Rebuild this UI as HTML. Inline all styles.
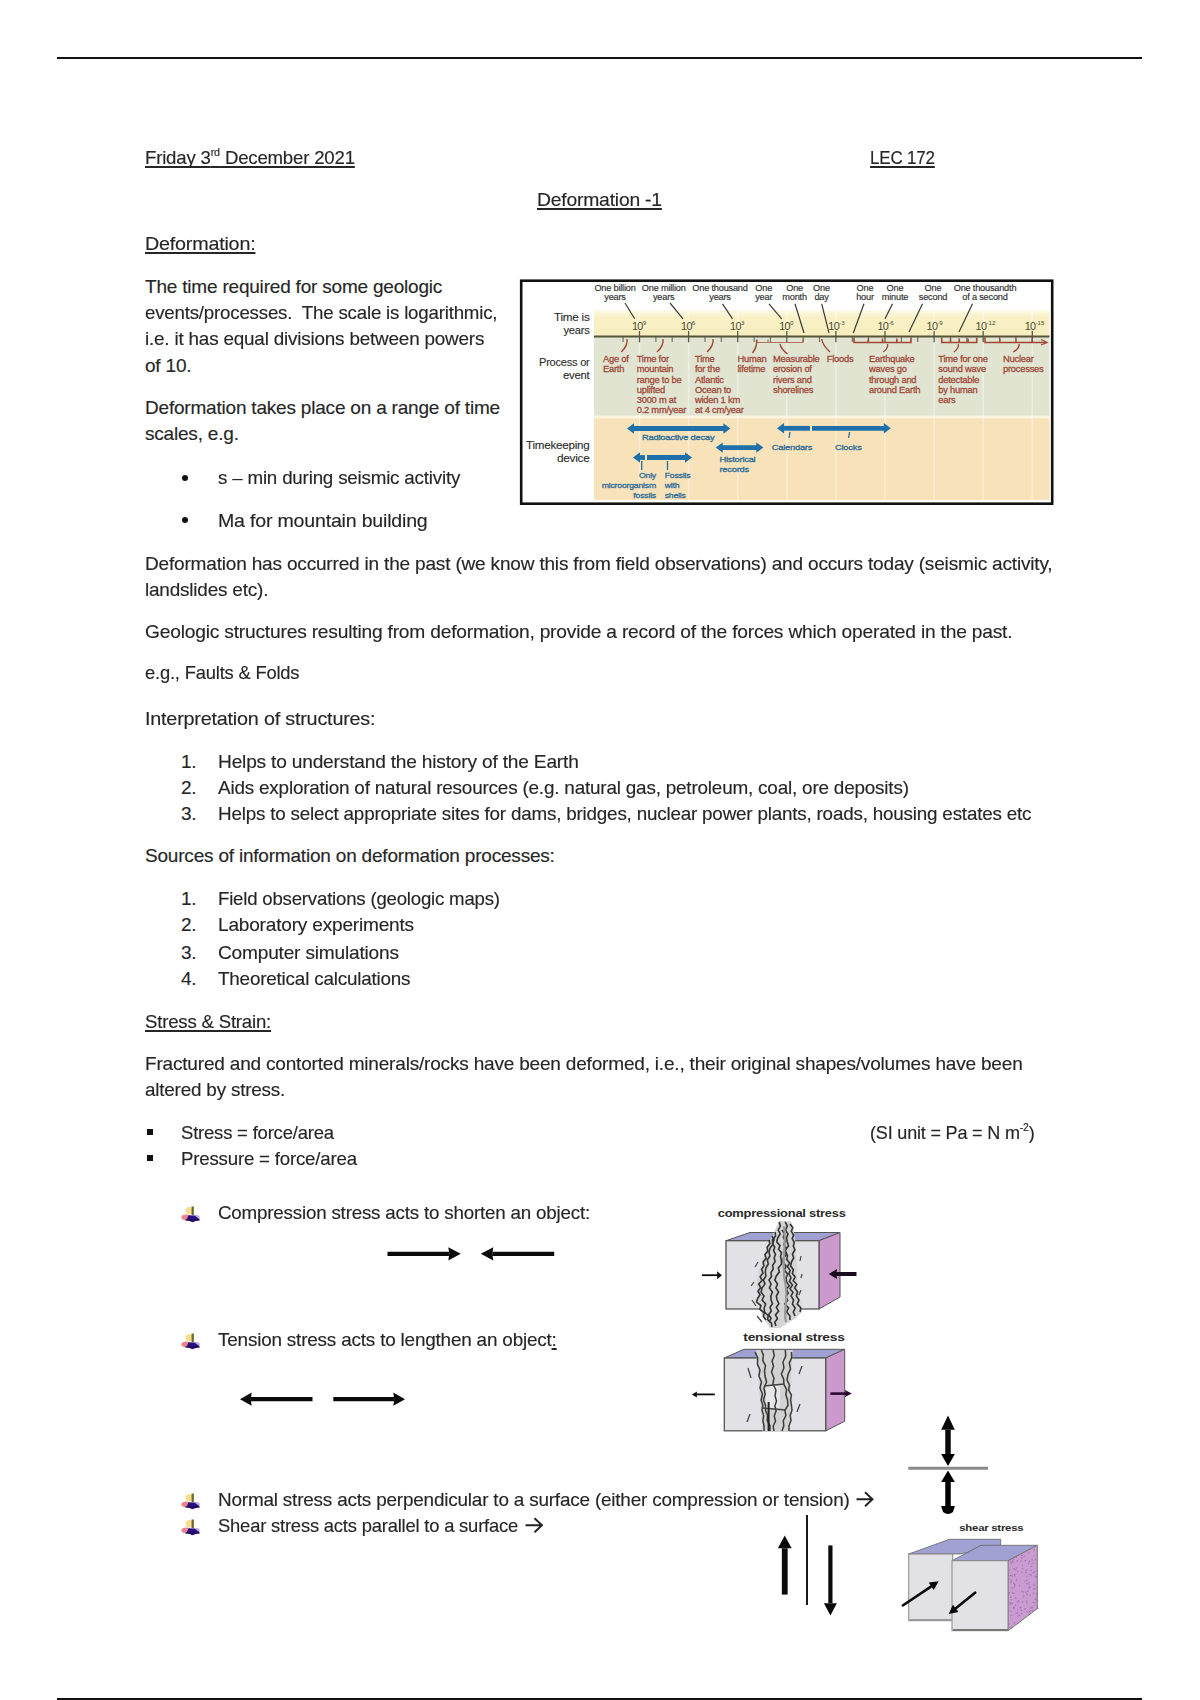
<!DOCTYPE html>
<html><head><meta charset="utf-8">
<style>
html,body{margin:0;padding:0;background:#fff;}
body{width:1200px;height:1700px;position:relative;overflow:hidden;font-family:"Liberation Sans",sans-serif;font-size:19px;color:#262626;letter-spacing:-0.2px;-webkit-text-stroke:0.15px #262626;}
.l{position:absolute;white-space:nowrap;line-height:normal;transform-origin:0 0;}
.u{text-decoration:underline;text-decoration-thickness:2px;text-underline-offset:2.3px;text-decoration-skip-ink:none;}
.hr{position:absolute;left:57px;width:1085px;height:2px;background:#111;}
.dot{position:absolute;width:6px;height:6px;border-radius:50%;background:#111;}
.sq{position:absolute;width:6px;height:6px;background:#111;}
sup{font-size:11px;vertical-align:0;position:relative;top:-8px;}
</style></head><body>
<div class="hr" style="top:57px"></div>
<div class="hr" style="top:1698px"></div>
<div id="t1" class="l u" style="left:145px;top:146.8px;transform:scaleX(0.9799)">Friday 3<sup>rd</sup> December 2021</div>
<div id="t2" class="l u" style="left:870px;top:146.6px;transform:scaleX(0.8931)">LEC 172</div>
<div id="t3" class="l u" style="left:537px;top:189.3px;transform:scaleX(1.0164)">Deformation -1</div>
<div id="t4" class="l u" style="left:145px;top:233.3px;transform:scaleX(1.0381)">Deformation:</div>
<div id="p1a" class="l" style="left:145px;top:275.6px">The time required for some geologic</div>
<div id="p1b" class="l" style="left:145px;top:301.7px;transform:scaleX(0.9832)">events/processes.&nbsp; The scale is logarithmic,</div>
<div id="p1c" class="l" style="left:145px;top:328.2px;transform:scaleX(0.9941)">i.e. it has equal divisions between powers</div>
<div id="p1d" class="l" style="left:145px;top:354.5px">of 10.</div>
<div id="p2a" class="l" style="left:145px;top:396.8px">Deformation takes place on a range of time</div>
<div id="p2b" class="l" style="left:145px;top:422.8px">scales, e.g.</div>
<div id="b1" class="l" style="left:218px;top:467.3px;transform:scaleX(0.9878)">s &#8211; min during seismic activity</div>
<div id="b2" class="l" style="left:218px;top:509.8px;transform:scaleX(1.0307)">Ma for mountain building</div>
<div id="p3a" class="l" style="left:145px;top:552.8px;transform:scaleX(1.0031)">Deformation has occurred in the past (we know this from field observations) and occurs today (seismic activity,</div>
<div id="p3b" class="l" style="left:145px;top:578.8px;transform:scaleX(0.9975)">landslides etc).</div>
<div id="p4" class="l" style="left:145px;top:621.3px;transform:scaleX(1.0103)">Geologic structures resulting from deformation, provide a record of the forces which operated in the past.</div>
<div id="p5" class="l" style="left:145px;top:661.6px;transform:scaleX(0.9667)">e.g., Faults &amp; Folds</div>
<div id="p6" class="l" style="left:145px;top:707.5px;transform:scaleX(1.0409)">Interpretation of structures:</div>
<div id="n1d" class="l" style="left:181px;top:751.0px">1.</div>
<div id="n1" class="l" style="left:218px;top:751.0px;transform:scaleX(1.0081)">Helps to understand the history of the Earth</div>
<div id="n2d" class="l" style="left:181px;top:777.0px">2.</div>
<div id="n2" class="l" style="left:218px;top:777.0px;transform:scaleX(0.9947)">Aids exploration of natural resources (e.g. natural gas, petroleum, coal, ore deposits)</div>
<div id="n3d" class="l" style="left:181px;top:803.0px">3.</div>
<div id="n3" class="l" style="left:218px;top:803.0px;transform:scaleX(0.9912)">Helps to select appropriate sites for dams, bridges, nuclear power plants, roads, housing estates etc</div>
<div id="p7" class="l" style="left:145px;top:845.1px">Sources of information on deformation processes:</div>
<div id="m1d" class="l" style="left:181px;top:887.6px">1.</div>
<div id="m1" class="l" style="left:218px;top:887.6px;transform:scaleX(0.9791)">Field observations (geologic maps)</div>
<div id="m2d" class="l" style="left:181px;top:914.3px">2.</div>
<div id="m2" class="l" style="left:218px;top:914.3px;transform:scaleX(1.0036)">Laboratory experiments</div>
<div id="m3d" class="l" style="left:181px;top:942.3px">3.</div>
<div id="m3" class="l" style="left:218px;top:942.3px;transform:scaleX(1.0056)">Computer simulations</div>
<div id="m4d" class="l" style="left:181px;top:968.2px">4.</div>
<div id="m4" class="l" style="left:218px;top:968.2px;transform:scaleX(0.9927)">Theoretical calculations</div>
<div id="t5" class="l u" style="left:145px;top:1010.5px;transform:scaleX(0.9787)">Stress &amp; Strain:</div>
<div id="p8a" class="l" style="left:145px;top:1052.5px;transform:scaleX(1.0019)">Fractured and contorted minerals/rocks have been deformed, i.e., their original shapes/volumes have been</div>
<div id="p8b" class="l" style="left:145px;top:1078.5px;transform:scaleX(0.9929)">altered by stress.</div>
<div id="s1" class="l" style="left:181px;top:1121.8px;transform:scaleX(0.9722)">Stress = force/area</div>
<div id="s1r" class="l" style="left:870px;top:1121.8px;transform:scaleX(0.9491)">(SI unit = Pa = N m<sup>-2</sup>)</div>
<div id="s2" class="l" style="left:181px;top:1147.9px;transform:scaleX(0.9821)">Pressure = force/area</div>
<div id="c1" class="l" style="left:218px;top:1202.0px;transform:scaleX(0.9880)">Compression stress acts to shorten an object:</div>
<div id="c2" class="l" style="left:218px;top:1328.8px;transform:scaleX(0.9956)">Tension stress acts to lengthen an object<span class="u">:</span></div>
<div id="c3" class="l" style="left:218px;top:1488.5px;transform:scaleX(0.9961)">Normal stress acts perpendicular to a surface (either compression or tension)</div>
<div id="c4" class="l" style="left:218px;top:1514.8px;transform:scaleX(0.9677)">Shear stress acts parallel to a surface</div>
<div class="dot" style="left:182px;top:475px"></div>
<div class="dot" style="left:182px;top:517px"></div>
<div class="sq" style="left:147px;top:1129px"></div>
<div class="sq" style="left:147px;top:1155.3px"></div>
<svg style="position:absolute;left:0;top:0" width="1200" height="1700" font-family="Liberation Sans, sans-serif">
<defs><linearGradient id="yg" x1="0" y1="0" x2="0" y2="1"><stop offset="0" stop-color="#fdf9e8"/><stop offset="0.3" stop-color="#f9f0c4"/><stop offset="1" stop-color="#f8eebf"/></linearGradient></defs>
<rect x="521.2" y="280.7" width="531" height="223" fill="#fff" stroke="#111" stroke-width="2.6"/>
<rect x="594" y="310" width="455.5" height="26.5" fill="url(#yg)"/>
<rect x="594" y="337" width="455.5" height="79" fill="#e1e4d1"/>
<rect x="594" y="415.5" width="455.5" height="4" fill="#faf5de"/>
<rect x="594" y="418.5" width="455.5" height="81.5" fill="#f8e2b9"/>
<line x1="639.5" y1="312" x2="639.5" y2="500" stroke="#fff" stroke-opacity="0.4" stroke-width="1.6"/>
<line x1="688.6" y1="312" x2="688.6" y2="500" stroke="#fff" stroke-opacity="0.4" stroke-width="1.6"/>
<line x1="737.7" y1="312" x2="737.7" y2="500" stroke="#fff" stroke-opacity="0.4" stroke-width="1.6"/>
<line x1="786.8" y1="312" x2="786.8" y2="500" stroke="#fff" stroke-opacity="0.4" stroke-width="1.6"/>
<line x1="835.9" y1="312" x2="835.9" y2="500" stroke="#fff" stroke-opacity="0.4" stroke-width="1.6"/>
<line x1="885.0" y1="312" x2="885.0" y2="500" stroke="#fff" stroke-opacity="0.4" stroke-width="1.6"/>
<line x1="934.1" y1="312" x2="934.1" y2="500" stroke="#fff" stroke-opacity="0.4" stroke-width="1.6"/>
<line x1="983.2" y1="312" x2="983.2" y2="500" stroke="#fff" stroke-opacity="0.4" stroke-width="1.6"/>
<line x1="1032.3" y1="312" x2="1032.3" y2="500" stroke="#fff" stroke-opacity="0.4" stroke-width="1.6"/>
<line x1="594" y1="336.4" x2="1049.5" y2="336.4" stroke="#55553a" stroke-width="2"/>
<line x1="639.5" y1="331" x2="639.5" y2="342.3" stroke="#5a5a40" stroke-width="1.3"/>
<line x1="688.6" y1="331" x2="688.6" y2="342.3" stroke="#5a5a40" stroke-width="1.3"/>
<line x1="737.7" y1="331" x2="737.7" y2="342.3" stroke="#5a5a40" stroke-width="1.3"/>
<line x1="786.8" y1="331" x2="786.8" y2="342.3" stroke="#5a5a40" stroke-width="1.3"/>
<line x1="835.9" y1="331" x2="835.9" y2="342.3" stroke="#5a5a40" stroke-width="1.3"/>
<line x1="885.0" y1="331" x2="885.0" y2="342.3" stroke="#5a5a40" stroke-width="1.3"/>
<line x1="934.1" y1="331" x2="934.1" y2="342.3" stroke="#5a5a40" stroke-width="1.3"/>
<line x1="983.2" y1="331" x2="983.2" y2="342.3" stroke="#5a5a40" stroke-width="1.3"/>
<line x1="1032.3" y1="331" x2="1032.3" y2="342.3" stroke="#5a5a40" stroke-width="1.3"/>
<line x1="623.1" y1="337" x2="623.1" y2="342" stroke="#6a6a50" stroke-width="1.1"/>
<line x1="655.9" y1="337" x2="655.9" y2="342" stroke="#6a6a50" stroke-width="1.1"/>
<line x1="672.2" y1="337" x2="672.2" y2="342" stroke="#6a6a50" stroke-width="1.1"/>
<line x1="705.0" y1="337" x2="705.0" y2="342" stroke="#6a6a50" stroke-width="1.1"/>
<line x1="721.3" y1="337" x2="721.3" y2="342" stroke="#6a6a50" stroke-width="1.1"/>
<line x1="754.1" y1="337" x2="754.1" y2="342" stroke="#6a6a50" stroke-width="1.1"/>
<line x1="770.4" y1="337" x2="770.4" y2="342" stroke="#6a6a50" stroke-width="1.1"/>
<line x1="803.2" y1="337" x2="803.2" y2="342" stroke="#6a6a50" stroke-width="1.1"/>
<line x1="819.5" y1="337" x2="819.5" y2="342" stroke="#6a6a50" stroke-width="1.1"/>
<line x1="852.3" y1="337" x2="852.3" y2="342" stroke="#6a6a50" stroke-width="1.1"/>
<line x1="868.6" y1="337" x2="868.6" y2="342" stroke="#6a6a50" stroke-width="1.1"/>
<line x1="901.4" y1="337" x2="901.4" y2="342" stroke="#6a6a50" stroke-width="1.1"/>
<line x1="917.7" y1="337" x2="917.7" y2="342" stroke="#6a6a50" stroke-width="1.1"/>
<line x1="950.5" y1="337" x2="950.5" y2="342" stroke="#6a6a50" stroke-width="1.1"/>
<line x1="966.8" y1="337" x2="966.8" y2="342" stroke="#6a6a50" stroke-width="1.1"/>
<line x1="999.6" y1="337" x2="999.6" y2="342" stroke="#6a6a50" stroke-width="1.1"/>
<line x1="1015.9" y1="337" x2="1015.9" y2="342" stroke="#6a6a50" stroke-width="1.1"/>
<text x="631.9" y="329.5" font-size="10.8" fill="#4a4a2e" letter-spacing="-0.6">10<tspan dy="-4.5" font-size="6.2" letter-spacing="0">9</tspan></text>
<text x="681.0" y="329.5" font-size="10.8" fill="#4a4a2e" letter-spacing="-0.6">10<tspan dy="-4.5" font-size="6.2" letter-spacing="0">6</tspan></text>
<text x="730.1" y="329.5" font-size="10.8" fill="#4a4a2e" letter-spacing="-0.6">10<tspan dy="-4.5" font-size="6.2" letter-spacing="0">3</tspan></text>
<text x="779.2" y="329.5" font-size="10.8" fill="#4a4a2e" letter-spacing="-0.6">10<tspan dy="-4.5" font-size="6.2" letter-spacing="0">0</tspan></text>
<text x="828.3" y="329.5" font-size="10.8" fill="#4a4a2e" letter-spacing="-0.6">10<tspan dy="-4.5" font-size="6.2" letter-spacing="0">-3</tspan></text>
<text x="877.4" y="329.5" font-size="10.8" fill="#4a4a2e" letter-spacing="-0.6">10<tspan dy="-4.5" font-size="6.2" letter-spacing="0">-6</tspan></text>
<text x="926.5" y="329.5" font-size="10.8" fill="#4a4a2e" letter-spacing="-0.6">10<tspan dy="-4.5" font-size="6.2" letter-spacing="0">-9</tspan></text>
<text x="975.6" y="329.5" font-size="10.8" fill="#4a4a2e" letter-spacing="-0.6">10<tspan dy="-4.5" font-size="6.2" letter-spacing="0">-12</tspan></text>
<text x="1024.7" y="329.5" font-size="10.8" fill="#4a4a2e" letter-spacing="-0.6">10<tspan dy="-4.5" font-size="6.2" letter-spacing="0">-15</tspan></text>
<text x="589.5" y="321" font-size="10" text-anchor="end" fill="#2a2a2a" stroke="#2a2a2a" stroke-width="0.1" textLength="35.5" lengthAdjust="spacingAndGlyphs">Time is</text>
<text x="589.5" y="334.3" font-size="10" text-anchor="end" fill="#2a2a2a" stroke="#2a2a2a" stroke-width="0.1" textLength="26" lengthAdjust="spacingAndGlyphs">years</text>
<text x="589.5" y="366" font-size="10" text-anchor="end" fill="#2a2a2a" stroke="#2a2a2a" stroke-width="0.1" textLength="50.5" lengthAdjust="spacingAndGlyphs">Process or</text>
<text x="589.5" y="379" font-size="10" text-anchor="end" fill="#2a2a2a" stroke="#2a2a2a" stroke-width="0.1" textLength="26.5" lengthAdjust="spacingAndGlyphs">event</text>
<text x="589.5" y="448.5" font-size="10" text-anchor="end" fill="#2a2a2a" stroke="#2a2a2a" stroke-width="0.1" textLength="63.5" lengthAdjust="spacingAndGlyphs">Timekeeping</text>
<text x="589.5" y="461.5" font-size="10" text-anchor="end" fill="#2a2a2a" stroke="#2a2a2a" stroke-width="0.1" textLength="32.5" lengthAdjust="spacingAndGlyphs">device</text>
<g transform="translate(615,291) scale(1.0,1)"><text x="0" y="0" font-size="9.2" fill="#2e2e2e" stroke="#2e2e2e" stroke-width="0.15" text-anchor="middle" >One billion</text></g>
<g transform="translate(615,300.3) scale(1.0,1)"><text x="0" y="0" font-size="9.2" fill="#2e2e2e" stroke="#2e2e2e" stroke-width="0.15" text-anchor="middle" >years</text></g>
<g transform="translate(663.7,291) scale(1.0,1)"><text x="0" y="0" font-size="9.2" fill="#2e2e2e" stroke="#2e2e2e" stroke-width="0.15" text-anchor="middle" >One million</text></g>
<g transform="translate(663.7,300.3) scale(1.0,1)"><text x="0" y="0" font-size="9.2" fill="#2e2e2e" stroke="#2e2e2e" stroke-width="0.15" text-anchor="middle" >years</text></g>
<g transform="translate(720,291) scale(1.0,1)"><text x="0" y="0" font-size="9.2" fill="#2e2e2e" stroke="#2e2e2e" stroke-width="0.15" text-anchor="middle" >One thousand</text></g>
<g transform="translate(720,300.3) scale(1.0,1)"><text x="0" y="0" font-size="9.2" fill="#2e2e2e" stroke="#2e2e2e" stroke-width="0.15" text-anchor="middle" >years</text></g>
<g transform="translate(763.7,291) scale(1.0,1)"><text x="0" y="0" font-size="9.2" fill="#2e2e2e" stroke="#2e2e2e" stroke-width="0.15" text-anchor="middle" >One</text></g>
<g transform="translate(763.7,300.3) scale(1.0,1)"><text x="0" y="0" font-size="9.2" fill="#2e2e2e" stroke="#2e2e2e" stroke-width="0.15" text-anchor="middle" >year</text></g>
<g transform="translate(794.6,291) scale(1.0,1)"><text x="0" y="0" font-size="9.2" fill="#2e2e2e" stroke="#2e2e2e" stroke-width="0.15" text-anchor="middle" >One</text></g>
<g transform="translate(794.6,300.3) scale(1.0,1)"><text x="0" y="0" font-size="9.2" fill="#2e2e2e" stroke="#2e2e2e" stroke-width="0.15" text-anchor="middle" >month</text></g>
<g transform="translate(821.5,291) scale(1.0,1)"><text x="0" y="0" font-size="9.2" fill="#2e2e2e" stroke="#2e2e2e" stroke-width="0.15" text-anchor="middle" >One</text></g>
<g transform="translate(821.5,300.3) scale(1.0,1)"><text x="0" y="0" font-size="9.2" fill="#2e2e2e" stroke="#2e2e2e" stroke-width="0.15" text-anchor="middle" >day</text></g>
<g transform="translate(865,291) scale(1.0,1)"><text x="0" y="0" font-size="9.2" fill="#2e2e2e" stroke="#2e2e2e" stroke-width="0.15" text-anchor="middle" >One</text></g>
<g transform="translate(865,300.3) scale(1.0,1)"><text x="0" y="0" font-size="9.2" fill="#2e2e2e" stroke="#2e2e2e" stroke-width="0.15" text-anchor="middle" >hour</text></g>
<g transform="translate(895,291) scale(1.0,1)"><text x="0" y="0" font-size="9.2" fill="#2e2e2e" stroke="#2e2e2e" stroke-width="0.15" text-anchor="middle" >One</text></g>
<g transform="translate(895,300.3) scale(1.0,1)"><text x="0" y="0" font-size="9.2" fill="#2e2e2e" stroke="#2e2e2e" stroke-width="0.15" text-anchor="middle" >minute</text></g>
<g transform="translate(933,291) scale(1.0,1)"><text x="0" y="0" font-size="9.2" fill="#2e2e2e" stroke="#2e2e2e" stroke-width="0.15" text-anchor="middle" >One</text></g>
<g transform="translate(933,300.3) scale(1.0,1)"><text x="0" y="0" font-size="9.2" fill="#2e2e2e" stroke="#2e2e2e" stroke-width="0.15" text-anchor="middle" >second</text></g>
<g transform="translate(985,291) scale(1.0,1)"><text x="0" y="0" font-size="9.2" fill="#2e2e2e" stroke="#2e2e2e" stroke-width="0.15" text-anchor="middle" >One thousandth</text></g>
<g transform="translate(985,300.3) scale(1.0,1)"><text x="0" y="0" font-size="9.2" fill="#2e2e2e" stroke="#2e2e2e" stroke-width="0.15" text-anchor="middle" >of a second</text></g>
<line x1="625" y1="303" x2="634.7" y2="318.8" stroke="#3a3a3a" stroke-width="1.2"/>
<line x1="670" y1="303" x2="683" y2="318.8" stroke="#3a3a3a" stroke-width="1.2"/>
<line x1="722.5" y1="303.8" x2="732.5" y2="318.8" stroke="#3a3a3a" stroke-width="1.2"/>
<line x1="769" y1="303.8" x2="781.7" y2="318.8" stroke="#3a3a3a" stroke-width="1.2"/>
<line x1="795" y1="303.8" x2="804" y2="333" stroke="#3a3a3a" stroke-width="1.2"/>
<line x1="821.7" y1="303.8" x2="829" y2="333" stroke="#3a3a3a" stroke-width="1.2"/>
<line x1="864" y1="303.8" x2="853.3" y2="333" stroke="#3a3a3a" stroke-width="1.2"/>
<line x1="892.5" y1="303.8" x2="885" y2="318.8" stroke="#3a3a3a" stroke-width="1.2"/>
<line x1="922.5" y1="303.8" x2="909" y2="332" stroke="#3a3a3a" stroke-width="1.2"/>
<line x1="972.5" y1="303.8" x2="959" y2="332" stroke="#3a3a3a" stroke-width="1.2"/>
<g transform="translate(603,362.3) scale(1.14,1)"><text x="0" y="0" font-size="8.2" fill="#a04838" stroke="#a04838" stroke-width="0.25" text-anchor="start" >Age of</text></g>
<g transform="translate(603,372.4) scale(1.14,1)"><text x="0" y="0" font-size="8.2" fill="#a04838" stroke="#a04838" stroke-width="0.25" text-anchor="start" >Earth</text></g>
<g transform="translate(636.7,362.3) scale(1.14,1)"><text x="0" y="0" font-size="8.2" fill="#a04838" stroke="#a04838" stroke-width="0.25" text-anchor="start" >Time for</text></g>
<g transform="translate(636.7,372.4) scale(1.14,1)"><text x="0" y="0" font-size="8.2" fill="#a04838" stroke="#a04838" stroke-width="0.25" text-anchor="start" >mountain</text></g>
<g transform="translate(636.7,382.5) scale(1.14,1)"><text x="0" y="0" font-size="8.2" fill="#a04838" stroke="#a04838" stroke-width="0.25" text-anchor="start" >range to be</text></g>
<g transform="translate(636.7,392.6) scale(1.14,1)"><text x="0" y="0" font-size="8.2" fill="#a04838" stroke="#a04838" stroke-width="0.25" text-anchor="start" >uplifted</text></g>
<g transform="translate(636.7,402.7) scale(1.14,1)"><text x="0" y="0" font-size="8.2" fill="#a04838" stroke="#a04838" stroke-width="0.25" text-anchor="start" >3000 m at</text></g>
<g transform="translate(636.7,412.8) scale(1.14,1)"><text x="0" y="0" font-size="8.2" fill="#a04838" stroke="#a04838" stroke-width="0.25" text-anchor="start" >0.2 mm/year</text></g>
<g transform="translate(695,362.3) scale(1.14,1)"><text x="0" y="0" font-size="8.2" fill="#a04838" stroke="#a04838" stroke-width="0.25" text-anchor="start" >Time</text></g>
<g transform="translate(695,372.4) scale(1.14,1)"><text x="0" y="0" font-size="8.2" fill="#a04838" stroke="#a04838" stroke-width="0.25" text-anchor="start" >for the</text></g>
<g transform="translate(695,382.5) scale(1.14,1)"><text x="0" y="0" font-size="8.2" fill="#a04838" stroke="#a04838" stroke-width="0.25" text-anchor="start" >Atlantic</text></g>
<g transform="translate(695,392.6) scale(1.14,1)"><text x="0" y="0" font-size="8.2" fill="#a04838" stroke="#a04838" stroke-width="0.25" text-anchor="start" >Ocean to</text></g>
<g transform="translate(695,402.7) scale(1.14,1)"><text x="0" y="0" font-size="8.2" fill="#a04838" stroke="#a04838" stroke-width="0.25" text-anchor="start" >widen 1 km</text></g>
<g transform="translate(695,412.8) scale(1.14,1)"><text x="0" y="0" font-size="8.2" fill="#a04838" stroke="#a04838" stroke-width="0.25" text-anchor="start" >at 4 cm/year</text></g>
<g transform="translate(737.5,362.3) scale(1.14,1)"><text x="0" y="0" font-size="8.2" fill="#a04838" stroke="#a04838" stroke-width="0.25" text-anchor="start" >Human</text></g>
<g transform="translate(737.5,372.4) scale(1.14,1)"><text x="0" y="0" font-size="8.2" fill="#a04838" stroke="#a04838" stroke-width="0.25" text-anchor="start" >lifetime</text></g>
<g transform="translate(773,362.3) scale(1.14,1)"><text x="0" y="0" font-size="8.2" fill="#a04838" stroke="#a04838" stroke-width="0.25" text-anchor="start" >Measurable</text></g>
<g transform="translate(773,372.4) scale(1.14,1)"><text x="0" y="0" font-size="8.2" fill="#a04838" stroke="#a04838" stroke-width="0.25" text-anchor="start" >erosion of</text></g>
<g transform="translate(773,382.5) scale(1.14,1)"><text x="0" y="0" font-size="8.2" fill="#a04838" stroke="#a04838" stroke-width="0.25" text-anchor="start" >rivers and</text></g>
<g transform="translate(773,392.6) scale(1.14,1)"><text x="0" y="0" font-size="8.2" fill="#a04838" stroke="#a04838" stroke-width="0.25" text-anchor="start" >shorelines</text></g>
<g transform="translate(826.7,362.3) scale(1.14,1)"><text x="0" y="0" font-size="8.2" fill="#a04838" stroke="#a04838" stroke-width="0.25" text-anchor="start" >Floods</text></g>
<g transform="translate(869,362.3) scale(1.14,1)"><text x="0" y="0" font-size="8.2" fill="#a04838" stroke="#a04838" stroke-width="0.25" text-anchor="start" >Earthquake</text></g>
<g transform="translate(869,372.4) scale(1.14,1)"><text x="0" y="0" font-size="8.2" fill="#a04838" stroke="#a04838" stroke-width="0.25" text-anchor="start" >waves go</text></g>
<g transform="translate(869,382.5) scale(1.14,1)"><text x="0" y="0" font-size="8.2" fill="#a04838" stroke="#a04838" stroke-width="0.25" text-anchor="start" >through and</text></g>
<g transform="translate(869,392.6) scale(1.14,1)"><text x="0" y="0" font-size="8.2" fill="#a04838" stroke="#a04838" stroke-width="0.25" text-anchor="start" >around Earth</text></g>
<g transform="translate(938.3,362.3) scale(1.14,1)"><text x="0" y="0" font-size="8.2" fill="#a04838" stroke="#a04838" stroke-width="0.25" text-anchor="start" >Time for one</text></g>
<g transform="translate(938.3,372.4) scale(1.14,1)"><text x="0" y="0" font-size="8.2" fill="#a04838" stroke="#a04838" stroke-width="0.25" text-anchor="start" >sound wave</text></g>
<g transform="translate(938.3,382.5) scale(1.14,1)"><text x="0" y="0" font-size="8.2" fill="#a04838" stroke="#a04838" stroke-width="0.25" text-anchor="start" >detectable</text></g>
<g transform="translate(938.3,392.6) scale(1.14,1)"><text x="0" y="0" font-size="8.2" fill="#a04838" stroke="#a04838" stroke-width="0.25" text-anchor="start" >by human</text></g>
<g transform="translate(938.3,402.7) scale(1.14,1)"><text x="0" y="0" font-size="8.2" fill="#a04838" stroke="#a04838" stroke-width="0.25" text-anchor="start" >ears</text></g>
<g transform="translate(1003,362.3) scale(1.14,1)"><text x="0" y="0" font-size="8.2" fill="#a04838" stroke="#a04838" stroke-width="0.25" text-anchor="start" >Nuclear</text></g>
<g transform="translate(1003,372.4) scale(1.14,1)"><text x="0" y="0" font-size="8.2" fill="#a04838" stroke="#a04838" stroke-width="0.25" text-anchor="start" >processes</text></g>
<path d="M621.3 352 Q628 345.5 627 339" fill="none" stroke="#a04838" stroke-width="1.4"/>
<path d="M657 352 Q664 345.5 663 339" fill="none" stroke="#a04838" stroke-width="1.4"/>
<path d="M707 352 Q714 345.5 713 339" fill="none" stroke="#a04838" stroke-width="1.4"/>
<path d="M752.5 353 Q757.5 346.5 756.5 340" fill="none" stroke="#a04838" stroke-width="1.4"/>
<path d="M787.5 354 Q781 349.0 780 344" fill="none" stroke="#a04838" stroke-width="1.4"/>
<path d="M830 352 Q822.7 345.5 821.7 339" fill="none" stroke="#a04838" stroke-width="1.4"/>
<path d="M883.3 352 Q888.5 348.0 887.5 344" fill="none" stroke="#a04838" stroke-width="1.4"/>
<path d="M954 352 Q959.3 348.0 958.3 344" fill="none" stroke="#a04838" stroke-width="1.4"/>
<path d="M1013.3 352 Q1020 348.0 1019 344" fill="none" stroke="#a04838" stroke-width="1.4"/>
<path d="M854 337.5 L854 342.5 L911 342.5 L911 337.5 M868.2 342.5 L868.2 338.5 M882.5 342.5 L882.5 338.5 M896.8 342.5 L896.8 338.5" fill="none" stroke="#a04838" stroke-width="1.6"/>
<path d="M941.7 337.5 L941.7 342.5 L976.7 342.5 L976.7 337.5 M950.5 342.5 L950.5 338.5 M959.2 342.5 L959.2 338.5 M968.0 342.5 L968.0 338.5" fill="none" stroke="#a04838" stroke-width="1.6"/>
<path d="M985 337.5 L985 342.5 L1046 342.5" fill="none" stroke="#a04838" stroke-width="1.6"/><path d="M1041 339.5 L1047 342.5 L1041 345" fill="none" stroke="#a04838" stroke-width="1.3"/>
<path d="M1000 342.5 L1000 338.5 M1016 342.5 L1016 338.5 M1032 342.5 L1032 338.5" stroke="#a04838" stroke-width="1.2"/>
<path d="M757 339 L757 342.5 L803 342.5 L803 339 M768 342.5 L768 339.5" fill="none" stroke="#a04838" stroke-width="1.1" stroke-opacity="0.75"/>
<line x1="633" y1="428.5" x2="724.4" y2="428.5" stroke="#1f70aa" stroke-width="4.8"/><path d="M627 428.5 L634 423.3 L634 433.7Z" fill="#1f70aa"/><path d="M730.4 428.5 L723.4 423.3 L723.4 433.7Z" fill="#1f70aa"/>
<line x1="639" y1="457.5" x2="645" y2="457.5" stroke="#1f70aa" stroke-width="4.8"/><path d="M633 457.5 L640 452.3 L640 462.7Z" fill="#1f70aa"/>
<line x1="647" y1="457.5" x2="686" y2="457.5" stroke="#1f70aa" stroke-width="4.8"/><path d="M692 457.5 L685 452.3 L685 462.7Z" fill="#1f70aa"/>
<line x1="721.7" y1="447.6" x2="757.4" y2="447.6" stroke="#1f70aa" stroke-width="4.8"/><path d="M715.7 447.6 L722.7 442.40000000000003 L722.7 452.8Z" fill="#1f70aa"/><path d="M763.4 447.6 L756.4 442.40000000000003 L756.4 452.8Z" fill="#1f70aa"/>
<line x1="783" y1="428.3" x2="810" y2="428.3" stroke="#1f70aa" stroke-width="4.8"/><path d="M777 428.3 L784 423.1 L784 433.5Z" fill="#1f70aa"/>
<line x1="812" y1="428.3" x2="884.8" y2="428.3" stroke="#1f70aa" stroke-width="4.8"/><path d="M890.8 428.3 L883.8 423.1 L883.8 433.5Z" fill="#1f70aa"/>
<g transform="translate(642,440) scale(1.2,1)"><text x="0" y="0" font-size="7.8" fill="#2e6d98" stroke="#2e6d98" stroke-width="0.3" text-anchor="start" >Radioactive decay</text></g>
<g transform="translate(719.4,462.3) scale(1.2,1)"><text x="0" y="0" font-size="7.8" fill="#2e6d98" stroke="#2e6d98" stroke-width="0.3" text-anchor="start" >Historical</text></g>
<g transform="translate(719.4,472.3) scale(1.2,1)"><text x="0" y="0" font-size="7.8" fill="#2e6d98" stroke="#2e6d98" stroke-width="0.3" text-anchor="start" >records</text></g>
<g transform="translate(771.7,450.3) scale(1.2,1)"><text x="0" y="0" font-size="7.8" fill="#2e6d98" stroke="#2e6d98" stroke-width="0.3" text-anchor="start" >Calendars</text></g>
<g transform="translate(835,450.3) scale(1.2,1)"><text x="0" y="0" font-size="7.8" fill="#2e6d98" stroke="#2e6d98" stroke-width="0.3" text-anchor="start" >Clocks</text></g>
<g transform="translate(656,478) scale(1.12,1)"><text x="0" y="0" font-size="7.8" fill="#2e6d98" stroke="#2e6d98" stroke-width="0.3" text-anchor="end" >Only</text></g>
<g transform="translate(656,488) scale(1.12,1)"><text x="0" y="0" font-size="7.8" fill="#2e6d98" stroke="#2e6d98" stroke-width="0.3" text-anchor="end" >microorganism</text></g>
<g transform="translate(656,498) scale(1.12,1)"><text x="0" y="0" font-size="7.8" fill="#2e6d98" stroke="#2e6d98" stroke-width="0.3" text-anchor="end" >fossils</text></g>
<g transform="translate(664.7,478) scale(1.12,1)"><text x="0" y="0" font-size="7.8" fill="#2e6d98" stroke="#2e6d98" stroke-width="0.3" text-anchor="start" >Fossils</text></g>
<g transform="translate(664.7,488) scale(1.12,1)"><text x="0" y="0" font-size="7.8" fill="#2e6d98" stroke="#2e6d98" stroke-width="0.3" text-anchor="start" >with</text></g>
<g transform="translate(664.7,498) scale(1.12,1)"><text x="0" y="0" font-size="7.8" fill="#2e6d98" stroke="#2e6d98" stroke-width="0.3" text-anchor="start" >shells</text></g>
<path d="M641.7 461 L641.7 470 M667.5 461 L667.5 470 M790 432 L789 438 M849.6 432 L848.6 438" stroke="#2e6d98" stroke-width="1.3"/>
</svg>
<svg style="position:absolute;left:0;top:0" width="1200" height="1700" font-family="Liberation Sans, sans-serif">
<defs><filter id="bl" x="-0.3" y="-0.3" width="1.6" height="1.6"><feGaussianBlur stdDeviation="0.7"/></filter><filter id="nz" x="0" y="0" width="1" height="1"><feTurbulence type="fractalNoise" baseFrequency="0.6" numOctaves="2" seed="3"/><feColorMatrix values="0 0 0 0 0.55  0 0 0 0 0.35  0 0 0 0 0.6  0 0 0 1.2 -0.35"/><feComposite in2="SourceGraphic" operator="in"/></filter></defs>
<line x1="387.5" y1="1253.8" x2="449.3" y2="1253.8" stroke="#0a0a0a" stroke-width="4.2"/><path d="M460.8 1253.8 L448.3 1247.1499999999999 L449.3 1253.8 L448.3 1260.45Z" fill="#0a0a0a"/>
<line x1="554.2" y1="1253.8" x2="492.3" y2="1253.8" stroke="#0a0a0a" stroke-width="4.2"/><path d="M480.8 1253.8 L493.3 1247.1499999999999 L492.3 1253.8 L493.3 1260.45Z" fill="#0a0a0a"/>
<line x1="312.5" y1="1399.2" x2="250.7" y2="1399.2" stroke="#0a0a0a" stroke-width="4.2"/><path d="M240 1399.2 L251.7 1392.55 L250.76399999999998 1399.2 L251.7 1405.8500000000001Z" fill="#0a0a0a"/>
<line x1="333.3" y1="1399.2" x2="394.3" y2="1399.2" stroke="#0a0a0a" stroke-width="4.2"/><path d="M405 1399.2 L393.3 1392.55 L394.236 1399.2 L393.3 1405.8500000000001Z" fill="#0a0a0a"/>
<g transform="translate(181,1205)" filter="url(#bl)"><ellipse cx="8.2" cy="5.8" rx="3.6" ry="3.8" fill="#f5cf62" opacity="0.7"/><ellipse cx="5" cy="12.3" rx="4.6" ry="2.9" fill="#ea6670" opacity="0.8"/><ellipse cx="15.2" cy="12.5" rx="3.6" ry="2.4" fill="#9a8ee0" opacity="0.7"/><path d="M5.5 14.8 L7.5 10.2 L13.5 10.6 L18.8 14.6 L11.5 17.2 Z" fill="#2a0e82"/><line x1="4.5" y1="15" x2="18.5" y2="15" stroke="#1a0850" stroke-width="1.3"/><line x1="11.7" y1="1.5" x2="11.7" y2="10" stroke="#6b6a2e" stroke-width="2.3"/></g>
<g transform="translate(181,1332)" filter="url(#bl)"><ellipse cx="8.2" cy="5.8" rx="3.6" ry="3.8" fill="#f5cf62" opacity="0.7"/><ellipse cx="5" cy="12.3" rx="4.6" ry="2.9" fill="#ea6670" opacity="0.8"/><ellipse cx="15.2" cy="12.5" rx="3.6" ry="2.4" fill="#9a8ee0" opacity="0.7"/><path d="M5.5 14.8 L7.5 10.2 L13.5 10.6 L18.8 14.6 L11.5 17.2 Z" fill="#2a0e82"/><line x1="4.5" y1="15" x2="18.5" y2="15" stroke="#1a0850" stroke-width="1.3"/><line x1="11.7" y1="1.5" x2="11.7" y2="10" stroke="#6b6a2e" stroke-width="2.3"/></g>
<g transform="translate(181,1492)" filter="url(#bl)"><ellipse cx="8.2" cy="5.8" rx="3.6" ry="3.8" fill="#f5cf62" opacity="0.7"/><ellipse cx="5" cy="12.3" rx="4.6" ry="2.9" fill="#ea6670" opacity="0.8"/><ellipse cx="15.2" cy="12.5" rx="3.6" ry="2.4" fill="#9a8ee0" opacity="0.7"/><path d="M5.5 14.8 L7.5 10.2 L13.5 10.6 L18.8 14.6 L11.5 17.2 Z" fill="#2a0e82"/><line x1="4.5" y1="15" x2="18.5" y2="15" stroke="#1a0850" stroke-width="1.3"/><line x1="11.7" y1="1.5" x2="11.7" y2="10" stroke="#6b6a2e" stroke-width="2.3"/></g>
<g transform="translate(181,1518)" filter="url(#bl)"><ellipse cx="8.2" cy="5.8" rx="3.6" ry="3.8" fill="#f5cf62" opacity="0.7"/><ellipse cx="5" cy="12.3" rx="4.6" ry="2.9" fill="#ea6670" opacity="0.8"/><ellipse cx="15.2" cy="12.5" rx="3.6" ry="2.4" fill="#9a8ee0" opacity="0.7"/><path d="M5.5 14.8 L7.5 10.2 L13.5 10.6 L18.8 14.6 L11.5 17.2 Z" fill="#2a0e82"/><line x1="4.5" y1="15" x2="18.5" y2="15" stroke="#1a0850" stroke-width="1.3"/><line x1="11.7" y1="1.5" x2="11.7" y2="10" stroke="#6b6a2e" stroke-width="2.3"/></g>
<polygon points="726,1240.7 750,1232.5 840,1232.5 819,1240.7" fill="#a0a0d2" stroke="#555" stroke-width="1"/>
<polygon points="819,1240.7 840,1232.5 840,1297 819,1309" fill="#cc99cc" stroke="#555" stroke-width="1"/>
<rect x="726" y="1240.7" width="93" height="68.3" fill="#e2e2e6" stroke="#555" stroke-width="1.3"/>
<path d="M775 1230 L779 1221 L791 1221 L794 1232 C797 1250 796 1270 798 1290 L802 1312 L796 1318 L780 1328 L770 1328 L762 1316 C756 1300 757 1290 757 1280 C760 1262 768 1245 775 1230 Z" fill="#d4d4d4"/>
<path d="M775.1 1232.0 L775.6 1236.0 L772.4 1240.0 L773.1 1244.0 L770.1 1248.0 L769.0 1252.0 L769.9 1256.0 L767.3 1260.0 L768.3 1264.0 L765.8 1268.0 L765.3 1272.0 L765.9 1276.0 L763.4 1280.0 L765.0 1284.0 L762.0 1288.0 L761.1 1292.0 L764.0 1296.0 L762.1 1300.0 L765.6 1304.0 L764.2 1308.0 L764.5 1312.0 L768.2 1315.8 L767.6 1319.5 L771.4 1323.2 L772.0 1327.0" fill="none" stroke="#333" stroke-width="1.6"/>
<path d="M779.2 1222.0 L780.4 1226.0 L778.3 1230.0 L780.2 1234.0 L777.6 1238.0 L776.8 1242.0 L780.0 1245.6 L778.6 1249.2 L781.5 1252.8 L780.5 1256.4 L781.3 1260.0 L781.6 1264.0 L778.3 1268.0 L779.4 1272.0 L776.3 1276.0 L774.8 1280.0 L777.5 1284.0 L775.9 1288.0 L778.6 1292.0 L776.3 1296.0 L777.1 1300.0 L778.9 1303.7 L776.3 1307.4 L778.6 1311.1 L775.5 1314.9 L777.5 1318.6 L774.7 1322.3 L776.0 1326.0" fill="none" stroke="#333" stroke-width="1.6"/>
<path d="M785.2 1222.0 L787.4 1226.0 L785.5 1230.0 L788.0 1234.0 L786.5 1238.0 L787.3 1242.0 L788.5 1246.0 L785.1 1250.0 L786.8 1254.0 L783.4 1258.0 L783.1 1262.0 L786.1 1266.0 L784.4 1270.0 L787.6 1274.0 L786.1 1278.0 L786.6 1282.0 L789.2 1285.7 L786.3 1289.3 L788.3 1293.0 L786.0 1296.7 L787.6 1300.3 L784.8 1304.0 L788.6 1308.0 L786.6 1312.0 L789.9 1316.0 L790.0 1320.0" fill="none" stroke="#333" stroke-width="1.6"/>
<path d="M790.0 1224.0 L792.8 1227.7 L791.3 1231.3 L793.6 1235.0 L792.2 1238.7 L794.3 1242.3 L793.3 1246.0 L794.9 1250.0 L792.4 1254.0 L793.7 1258.0 L791.4 1262.0 L790.6 1266.0 L793.4 1269.7 L792.3 1273.3 L795.1 1277.0 L793.2 1280.7 L796.7 1284.3 L794.6 1288.0 L797.6 1292.0 L796.3 1296.0 L799.0 1300.0 L797.2 1304.0 L800.9 1308.0 L800.0 1312.0" fill="none" stroke="#333" stroke-width="1.6"/>
<path d="M769.2 1240.0 L769.8 1243.7 L767.1 1247.3 L767.9 1251.0 L764.9 1254.7 L766.2 1258.3 L763.1 1262.0 L764.0 1265.7 L761.6 1269.3 L763.0 1273.0 L760.2 1276.7 L762.2 1280.3 L758.7 1284.0 L760.7 1287.6 L758.0 1291.2 L760.1 1294.8 L757.7 1298.4 L756.5 1302.0 L761.0 1305.6 L759.8 1309.2 L764.2 1312.8 L763.4 1316.4 L766.0 1320.0" fill="none" stroke="#333" stroke-width="1.6"/>
<path d="M772.0 1236.0 L774.1 1239.7 L772.4 1243.3 L774.7 1247.0 L773.6 1250.7 L775.5 1254.3 L774.2 1258.0 L775.1 1261.7 L772.6 1265.3 L773.2 1269.0 L770.9 1272.7 L771.6 1276.3 L769.0 1280.0 L771.1 1284.0 L769.4 1288.0 L772.4 1292.0 L770.8 1296.0 L771.1 1300.0 L772.5 1303.7 L770.0 1307.3 L771.3 1311.0 L768.6 1314.7 L771.1 1318.3 L769.0 1322.0" fill="none" stroke="#333" stroke-width="1.6"/>
<path d="M781.9 1230.0 L784.6 1233.7 L783.3 1237.3 L785.2 1241.0 L784.0 1244.7 L786.4 1248.3 L784.6 1252.0 L787.5 1255.7 L786.7 1259.3 L789.5 1263.0 L787.5 1266.7 L790.1 1270.3 L788.9 1274.0 L791.0 1277.7 L789.5 1281.3 L792.5 1285.0 L789.9 1288.7 L793.0 1292.3 L791.1 1296.0 L793.6 1300.0 L792.4 1304.0 L795.2 1308.0 L793.3 1312.0 L795.0 1316.0" fill="none" stroke="#333" stroke-width="1.6"/>
<path d="M758 1262 l-3 5 M754 1282 l-3 4 M752 1300 l4 6 M801 1256 l-1 5 M802 1274 l-1 4 M801 1290 l-2 5 M757 1316 l5 6" fill="none" stroke="#444" stroke-width="1.2"/>
<path d="M784 1226 C787 1244 781 1262 785 1282 C789 1298 783 1310 786 1322" fill="none" stroke="#999" stroke-width="2.2"/>
<line x1="702" y1="1275.2" x2="718" y2="1275.2" stroke="#0a0a0a" stroke-width="1.8"/><path d="M722 1275.2 L717 1271.2 L717.4 1275.2 L717 1279.2Z" fill="#0a0a0a"/>
<line x1="856.5" y1="1274" x2="836" y2="1274" stroke="#1a0a20" stroke-width="4"/><path d="M828.7 1274 L837 1269.0 L836.336 1274 L837 1279.0Z" fill="#1a0a20"/>
<text x="717.7" y="1217.2" font-size="11.2" font-weight="bold" fill="#2a2a2a" letter-spacing="-0.2" textLength="128" lengthAdjust="spacingAndGlyphs">compressional stress</text>
<polygon points="724.3,1358 744,1349.3 844.7,1349.3 825.7,1358" fill="#a0a0d2" stroke="#555" stroke-width="1"/>
<polygon points="825.7,1358 844.7,1349.3 844.7,1421.3 825.7,1430.8" fill="#cc99cc" stroke="#555" stroke-width="1"/>
<rect x="724.3" y="1358" width="101.4" height="72.8" fill="#e2e2e6" stroke="#555" stroke-width="1.3"/>
<path d="M756 1350 L793 1350 C790 1375 792 1400 789.5 1432 L762.5 1432 C760 1400 758 1375 756 1350 Z" fill="#d2d2d2"/>
<rect x="766" y="1386" width="14" height="22" fill="#e6e6e8"/>
<path d="M755.1 1352.0 L757.7 1358.0 L757.4 1364.0 L760.0 1370.0 L758.9 1376.0 L761.5 1382.0 L760.0 1388.0 L762.5 1394.0 L761.1 1400.0 L762.9 1405.2 L761.9 1410.3 L763.7 1415.5 L762.9 1420.7 L764.1 1425.8 L764.0 1431.0" fill="none" stroke="#3a3a3a" stroke-width="1.5"/>
<path d="M761.4 1350.0 L763.4 1355.2 L762.7 1360.4 L765.5 1365.6 L764.5 1370.8 L765.0 1376.0 L766.6 1382.0 L763.9 1388.0 L765.2 1394.0 L763.4 1400.0 L765.6 1405.2 L765.4 1410.3 L767.6 1415.5 L767.2 1420.7 L770.0 1425.8 L770.0 1431.0" fill="none" stroke="#3a3a3a" stroke-width="1.5"/>
<path d="M773.0 1350.0 L774.3 1355.5 L772.1 1361.0 L773.5 1366.5 L771.5 1372.0 L773.9 1378.0 L773.0 1384.0 L775.9 1390.0 L775.1 1396.0 L776.5 1401.0 L774.9 1406.0 L776.1 1411.0 L774.2 1416.0 L775.5 1421.0 L773.2 1426.0 L774.0 1431.0" fill="none" stroke="#3a3a3a" stroke-width="1.5"/>
<path d="M785.3 1350.0 L785.7 1356.0 L783.0 1362.0 L783.9 1368.0 L781.4 1374.0 L783.7 1379.2 L783.9 1384.4 L786.6 1389.6 L785.8 1394.8 L787.5 1400.0 L788.0 1405.2 L784.9 1410.3 L785.9 1415.5 L783.3 1420.7 L783.8 1425.8 L782.0 1431.0" fill="none" stroke="#3a3a3a" stroke-width="1.5"/>
<path d="M791.5 1352.0 L791.7 1357.6 L789.3 1363.2 L790.5 1368.8 L788.0 1374.4 L787.0 1380.0 L789.5 1385.0 L788.6 1390.0 L791.4 1395.0 L790.6 1400.0 L791.4 1405.0 L792.0 1410.2 L790.2 1415.4 L791.0 1420.6 L789.0 1425.8 L789.0 1431.0" fill="none" stroke="#3a3a3a" stroke-width="1.5"/>
<path d="M764 1386 L784 1384 M762 1408 L786 1410 M748 1368 l3 10 M802 1366 l-3 8 M800 1404 l-3 8 M750 1414 l-3 8" fill="none" stroke="#444" stroke-width="1.3"/>
<line x1="768.6" y1="1402" x2="768.6" y2="1431" stroke="#222" stroke-width="2"/>
<line x1="714.8" y1="1394.4" x2="696" y2="1394.4" stroke="#0a0a0a" stroke-width="1.8"/><path d="M691.9 1394.4 L697 1391.4 L696.592 1394.4 L697 1397.4Z" fill="#0a0a0a"/>
<line x1="830.4" y1="1393.6" x2="846" y2="1393.6" stroke="#2a0a30" stroke-width="2.6"/><path d="M851.8 1393.6 L845 1390.1 L845.544 1393.6 L845 1397.1Z" fill="#2a0a30"/>
<text x="743.3" y="1340.6" font-size="11.2" font-weight="bold" fill="#2a2a2a" letter-spacing="-0.2" textLength="101.4" lengthAdjust="spacingAndGlyphs">tensional stress</text>
<line x1="908.3" y1="1468.2" x2="988" y2="1468.2" stroke="#8a8a8a" stroke-width="3"/>
<line x1="948" y1="1455" x2="948" y2="1429.7" stroke="#0a0a0a" stroke-width="5.5"/><path d="M948 1415.5 L941.15 1429.7 L954.85 1429.7Z" fill="#0a0a0a"/>
<path d="M948 1466 L941.1 1454 L954.9 1454 Z" fill="#000"/>
<path d="M948 1470.5 L941.1 1482 L954.9 1482 Z" fill="#000"/>
<line x1="948" y1="1481" x2="948" y2="1507" stroke="#000" stroke-width="5.5"/>
<path d="M941.1 1506 L954.9 1506 L953 1512 Q948 1516 943 1512 Z" fill="#000"/>
<line x1="784.75" y1="1594.6" x2="784.75" y2="1548.3" stroke="#0a0a0a" stroke-width="5.8"/><path d="M784.75 1535.4 L777.875 1548.3 L791.625 1548.3Z" fill="#0a0a0a"/>
<line x1="807" y1="1515" x2="807" y2="1605" stroke="#000" stroke-width="1.8"/>
<line x1="830.4" y1="1545.4" x2="830.4" y2="1603.3" stroke="#0a0a0a" stroke-width="4.2"/><path d="M830.4 1615.4 L823.9 1603.3 L836.9 1603.3Z" fill="#0a0a0a"/>
<polygon points="908.7,1554 949.3,1539.3 1000.7,1539.3 1000.7,1545.3 960,1554" fill="#a0a0d2" stroke="#666" stroke-width="0.8"/>
<rect x="908.7" y="1554" width="44" height="66.7" fill="#e2e2e6" stroke="#888" stroke-width="1"/>
<polygon points="952,1560.7 981,1545.3 1037.3,1545.3 1008,1560.7" fill="#a0a0d2" stroke="#666" stroke-width="0.8"/>
<polygon points="1008,1560.7 1037.3,1545.3 1037.3,1608.7 1008,1630.7" fill="#c99bd0" stroke="#777" stroke-width="1"/>
<path d="M1021.3 1591.2h1.2M1035.1 1576.2h1.2M1022.9 1592.0h1.2M1013.4 1593.1h1.2M1026.5 1603.2h1.2M1010.8 1580.3h1.2M1010.7 1615.5h1.2M1028.3 1552.8h1.2M1036.8 1606.9h1.2M1027.2 1591.1h1.2M1012.6 1559.3h1.2M1023.5 1556.5h1.2M1013.6 1574.4h1.2M1008.9 1592.6h1.2M1020.9 1610.4h1.2M1023.2 1595.3h1.2M1022.6 1597.2h1.2M1021.4 1572.3h1.2M1037.2 1608.5h1.2M1032.6 1593.4h1.2M1017.2 1571.4h1.2M1016.5 1561.0h1.2M1030.5 1574.9h1.2M1032.8 1572.6h1.2M1036.1 1599.9h1.2M1008.0 1575.4h1.2M1034.7 1576.8h1.2M1036.7 1570.9h1.2M1010.1 1603.3h1.2M1030.8 1566.2h1.2M1010.6 1582.4h1.2M1036.2 1594.1h1.2M1011.5 1575.9h1.2M1011.0 1563.3h1.2M1031.4 1559.9h1.2M1024.4 1581.8h1.2M1013.6 1608.1h1.2M1011.8 1603.2h1.2M1011.4 1588.0h1.2M1014.2 1575.9h1.2M1036.4 1596.8h1.2M1016.9 1616.2h1.2M1014.2 1584.5h1.2M1033.0 1588.9h1.2M1010.9 1627.8h1.2M1014.2 1575.1h1.2M1030.6 1570.1h1.2M1016.7 1561.1h1.2M1010.6 1599.8h1.2M1015.1 1598.1h1.2M1018.9 1585.6h1.2M1036.1 1576.7h1.2M1024.8 1609.2h1.2M1013.4 1568.5h1.2M1034.6 1599.1h1.2M1015.3 1569.8h1.2M1029.7 1610.6h1.2M1013.8 1622.9h1.2M1033.8 1585.8h1.2M1020.3 1561.2h1.2M1009.1 1627.2h1.2M1015.0 1605.2h1.2M1015.5 1613.0h1.2M1025.5 1570.9h1.2M1013.1 1607.6h1.2M1010.0 1575.5h1.2M1024.4 1608.6h1.2M1026.0 1569.7h1.2M1034.9 1559.6h1.2M1008.5 1579.3h1.2M1021.1 1557.9h1.2M1013.2 1583.4h1.2M1024.8 1560.6h1.2M1018.6 1615.4h1.2M1036.7 1587.3h1.2M1028.3 1588.3h1.2M1012.1 1561.0h1.2M1008.5 1624.0h1.2M1028.5 1612.8h1.2M1008.6 1604.8h1.2M1022.1 1602.1h1.2M1017.3 1623.6h1.2M1010.2 1597.5h1.2M1029.6 1608.0h1.2M1029.6 1595.2h1.2M1031.2 1607.7h1.2M1018.3 1601.7h1.2M1034.4 1602.6h1.2M1020.2 1607.4h1.2M1033.3 1584.2h1.2M1026.3 1576.3h1.2M1025.1 1592.0h1.2M1010.3 1603.9h1.2M1037.1 1601.2h1.2M1029.3 1574.8h1.2M1029.5 1587.2h1.2M1020.9 1610.2h1.2M1010.5 1611.5h1.2M1008.9 1602.2h1.2M1022.1 1568.7h1.2M1028.5 1582.5h1.2M1026.0 1611.9h1.2M1015.5 1557.5h1.2M1016.8 1602.2h1.2M1013.9 1569.2h1.2M1034.5 1589.0h1.2M1020.9 1613.7h1.2M1017.6 1600.8h1.2M1013.8 1587.2h1.2M1031.6 1607.4h1.2M1033.8 1571.8h1.2M1025.1 1572.7h1.2M1012.0 1592.9h1.2M1032.5 1602.5h1.2M1028.8 1611.8h1.2M1016.1 1568.0h1.2M1021.2 1572.2h1.2M1014.3 1585.8h1.2M1026.3 1583.6h1.2M1017.2 1612.8h1.2M1036.8 1574.3h1.2M1010.2 1561.7h1.2M1033.6 1549.9h1.2M1028.8 1587.1h1.2M1017.1 1609.7h1.2M1008.6 1569.9h1.2M1021.3 1555.4h1.2M1032.3 1563.2h1.2M1012.1 1561.8h1.2M1026.4 1580.4h1.2M1026.5 1594.1h1.2M1031.7 1610.3h1.2M1028.1 1563.2h1.2M1021.9 1565.3h1.2M1008.3 1593.6h1.2M1028.9 1561.4h1.2M1016.0 1580.1h1.2M1028.4 1584.0h1.2M1026.0 1601.1h1.2M1019.5 1608.0h1.2" stroke="#8e5c98" stroke-width="1.1" opacity="0.7"/>
<rect x="952" y="1560.7" width="56" height="70" fill="#e2e2e6" stroke="#888" stroke-width="1"/>
<line x1="953" y1="1630" x2="1008" y2="1630" stroke="#777" stroke-width="2"/>
<line x1="909.7" y1="1620" x2="952" y2="1620" stroke="#999" stroke-width="2"/>
<line x1="902" y1="1606" x2="932.1" y2="1585.8" stroke="#0a0a0a" stroke-width="2.6"/><path d="M938.7 1581.3 L933.7 1590.1 L928.7 1582.6 Z" fill="#0a0a0a"/>
<line x1="976" y1="1592" x2="954.9" y2="1609.0" stroke="#0a0a0a" stroke-width="2.6"/><path d="M948.7 1614 L952.9 1604.8 L958.5 1611.9 Z" fill="#0a0a0a"/>
<text x="959.3" y="1531.3" font-size="9.2" font-weight="bold" fill="#2a2a2a" textLength="64" lengthAdjust="spacingAndGlyphs">shear stress</text>
<path d="M856.5 1499.2 L872.0 1499.2 M865.0 1492.2 L872.5 1499.2 L865.0 1506.2" fill="none" stroke="#222" stroke-width="1.9"/>
<path d="M525.5 1525.2 L541.5 1525.2 M534.5 1518.2 L542 1525.2 L534.5 1532.2" fill="none" stroke="#222" stroke-width="1.9"/>
</svg>
</body></html>
